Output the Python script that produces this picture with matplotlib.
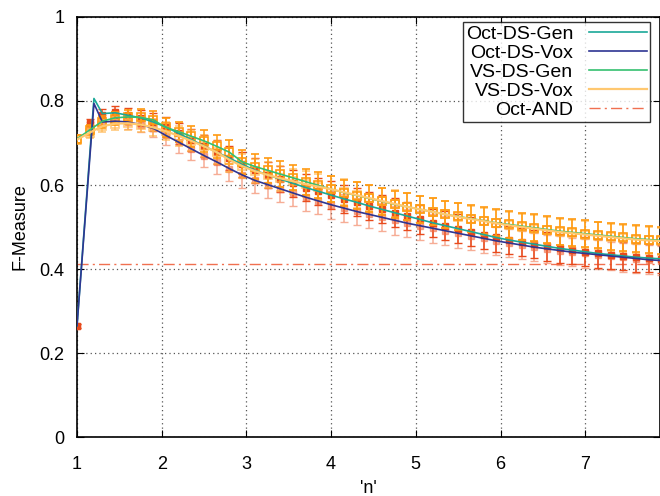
import matplotlib
matplotlib.use("Agg")
import matplotlib.pyplot as plt
import numpy as np

plt.rcParams['font.family'] = ['Liberation Sans', 'DejaVu Sans']

# sample positions of the error-bar points
n = [1.00, 1.15, 1.30, 1.45, 1.60, 1.75, 1.90, 2.05, 2.20, 2.35, 2.50, 2.65,
     2.80, 2.95, 3.10, 3.25, 3.40, 3.55, 3.70, 3.85, 4.00, 4.15, 4.30, 4.45,
     4.60, 4.75, 4.90, 5.05, 5.20, 5.35, 5.50, 5.65, 5.80, 5.95, 6.10, 6.25,
     6.40, 6.55, 6.70, 6.85, 7.00, 7.15, 7.30, 7.45, 7.60, 7.75, 7.90]
# the curves peak a little later than the second sample
n_line = [1.00, 1.20] + n[2:]

oct_gen = [0.265, 0.806, 0.770, 0.772, 0.766, 0.760, 0.750, 0.738, 0.723, 0.708,
           0.693, 0.678, 0.664, 0.649, 0.635, 0.624, 0.614, 0.604, 0.594, 0.585,
           0.576, 0.567, 0.559, 0.550, 0.542, 0.534, 0.526, 0.518, 0.510, 0.503,
           0.496, 0.489, 0.482, 0.475, 0.469, 0.464, 0.459, 0.454, 0.449, 0.445,
           0.441, 0.437, 0.434, 0.431, 0.428, 0.426, 0.424]

oct_vox = [0.265, 0.794, 0.750, 0.752, 0.750, 0.744, 0.735, 0.718, 0.702, 0.686,
           0.670, 0.655, 0.639, 0.624, 0.611, 0.601, 0.591, 0.581, 0.571, 0.562,
           0.553, 0.545, 0.537, 0.530, 0.523, 0.516, 0.509, 0.503, 0.497, 0.491,
           0.485, 0.479, 0.473, 0.467, 0.462, 0.457, 0.452, 0.448, 0.444, 0.440,
           0.437, 0.434, 0.431, 0.428, 0.425, 0.422, 0.420]

vs_gen = [0.710, 0.738, 0.752, 0.760, 0.762, 0.761, 0.755, 0.737, 0.727, 0.716,
          0.705, 0.692, 0.678, 0.655, 0.644, 0.635, 0.626, 0.617, 0.608, 0.599,
          0.590, 0.582, 0.575, 0.568, 0.561, 0.554, 0.548, 0.542, 0.536, 0.530,
          0.525, 0.520, 0.515, 0.510, 0.506, 0.502, 0.498, 0.494, 0.490, 0.487,
          0.484, 0.481, 0.478, 0.475, 0.472, 0.470, 0.468]

vs_vox = [0.708, 0.730, 0.740, 0.746, 0.747, 0.744, 0.737, 0.728, 0.717, 0.705,
          0.692, 0.678, 0.660, 0.645, 0.633, 0.624, 0.616, 0.609, 0.602, 0.596,
          0.590, 0.583, 0.576, 0.569, 0.562, 0.555, 0.548, 0.542, 0.536, 0.530,
          0.524, 0.519, 0.514, 0.509, 0.504, 0.500, 0.496, 0.492, 0.488, 0.485,
          0.482, 0.479, 0.476, 0.473, 0.470, 0.468, 0.466]

# error-bar point means
oct_gen_pts = [0.265, 0.747, 0.767, 0.774] + oct_gen[4:]
oct_vox_pts = [0.265, 0.740, 0.752, 0.760] + oct_vox[4:]
vs_gen_pts = [0.710, 0.730, 0.750, 0.758] + vs_gen[4:]
vs_vox_pts = [0.708, 0.724, 0.740, 0.746] + vs_vox[4:]

oct_err = [0.005, 0.010, 0.014, 0.015, 0.017, 0.019, 0.021, 0.023, 0.025, 0.026,
           0.027, 0.028, 0.029, 0.030, 0.030, 0.031, 0.031, 0.032, 0.032, 0.032,
           0.033, 0.033, 0.033, 0.033, 0.033, 0.034, 0.034, 0.034, 0.034, 0.034,
           0.034, 0.034, 0.034, 0.034, 0.034, 0.034, 0.034, 0.034, 0.034, 0.034,
           0.034, 0.034, 0.034, 0.034, 0.034, 0.034, 0.034]

vs_err = [0.010, 0.012, 0.014, 0.015, 0.017, 0.019, 0.020, 0.022, 0.024, 0.025,
          0.026, 0.027, 0.028, 0.029, 0.029, 0.030, 0.030, 0.030, 0.031, 0.031,
          0.031, 0.031, 0.031, 0.032, 0.032, 0.032, 0.032, 0.032, 0.032, 0.032,
          0.032, 0.032, 0.032, 0.032, 0.032, 0.032, 0.032, 0.032, 0.032, 0.032,
          0.032, 0.032, 0.032, 0.032, 0.032, 0.032, 0.032]

oct_and = 0.413

fig = plt.figure(figsize=(6.6, 4.96), dpi=100)
ax = fig.add_axes([77/660, 59/496, 583/660, 420/496])

# error bars with markers (not in legend)
ax.errorbar(n, oct_vox_pts, yerr=oct_err, fmt='s', ms=5, color='#f06a40', ecolor='#f06a40',
            elinewidth=1.1, capsize=3, alpha=0.55, zorder=3)
ax.errorbar(n, oct_gen_pts, yerr=oct_err, fmt='s', ms=5, color='#e84a1c', ecolor='#e84a1c',
            elinewidth=1.1, capsize=3, zorder=3)
ax.errorbar(n, vs_vox_pts, yerr=vs_err, fmt='s', ms=6, mfc='none', mec='#ffb347', ecolor='#ffb347',
            mew=1.2, elinewidth=1.1, capsize=3, alpha=0.7, zorder=4)
ax.errorbar(n, vs_gen_pts, yerr=vs_err, fmt='s', ms=6, mfc='none', mec='#ff9a10', ecolor='#ff9a10',
            mew=1.2, elinewidth=1.1, capsize=3, zorder=4)

ax.plot(n_line, oct_gen, color='#1aa898', lw=1.2, label='Oct-DS-Gen', zorder=5)
ax.plot(n_line, oct_vox, color='#2e3592', lw=1.2, label='Oct-DS-Vox', zorder=5)
ax.plot(n_line, vs_gen, color='#35c070', lw=1.2, label='VS-DS-Gen', zorder=5)
ax.plot(n_line, vs_vox, color='#ffc870', lw=1.6, label='VS-DS-Vox', zorder=5)
ax.axhline(oct_and, color='#f07050', lw=1.0, ls=(0, (8, 3, 1.5, 3)), label='Oct-AND', zorder=2)

ax.set_xlim(1, 1 + 583/84.7)
ax.set_ylim(0, 1)
ax.set_xticks([1, 2, 3, 4, 5, 6, 7])
ax.set_yticks([0, 0.2, 0.4, 0.6, 0.8, 1])
ax.set_yticklabels(['0', '0.2', '0.4', '0.6', '0.8', '1'])
ax.grid(True, color='#555555', ls=(0, (1, 2.5)), lw=0.9)
ax.tick_params(direction='in', top=True, right=True, labelsize=13, length=5)
ax.tick_params(axis='x', pad=14)
ax.tick_params(axis='y', pad=9)
for s in ax.spines.values():
    s.set_linewidth(1.2)

ax.set_xlabel("'n'", fontsize=13, labelpad=5)
ax.set_ylabel('F-Measure', fontsize=13, labelpad=8)

leg = ax.legend(loc='upper right', bbox_to_anchor=(0.983, 0.988), markerfirst=False,
                fontsize=14, frameon=True, fancybox=False, edgecolor='black',
                handlelength=3.0, labelspacing=0.08, borderpad=0.15, handletextpad=0.8,
                borderaxespad=0.0)
leg.get_frame().set_linewidth(1.0)
for t in leg.get_texts():
    t.set_ha('right')

fig.savefig('out.png', dpi=100)
